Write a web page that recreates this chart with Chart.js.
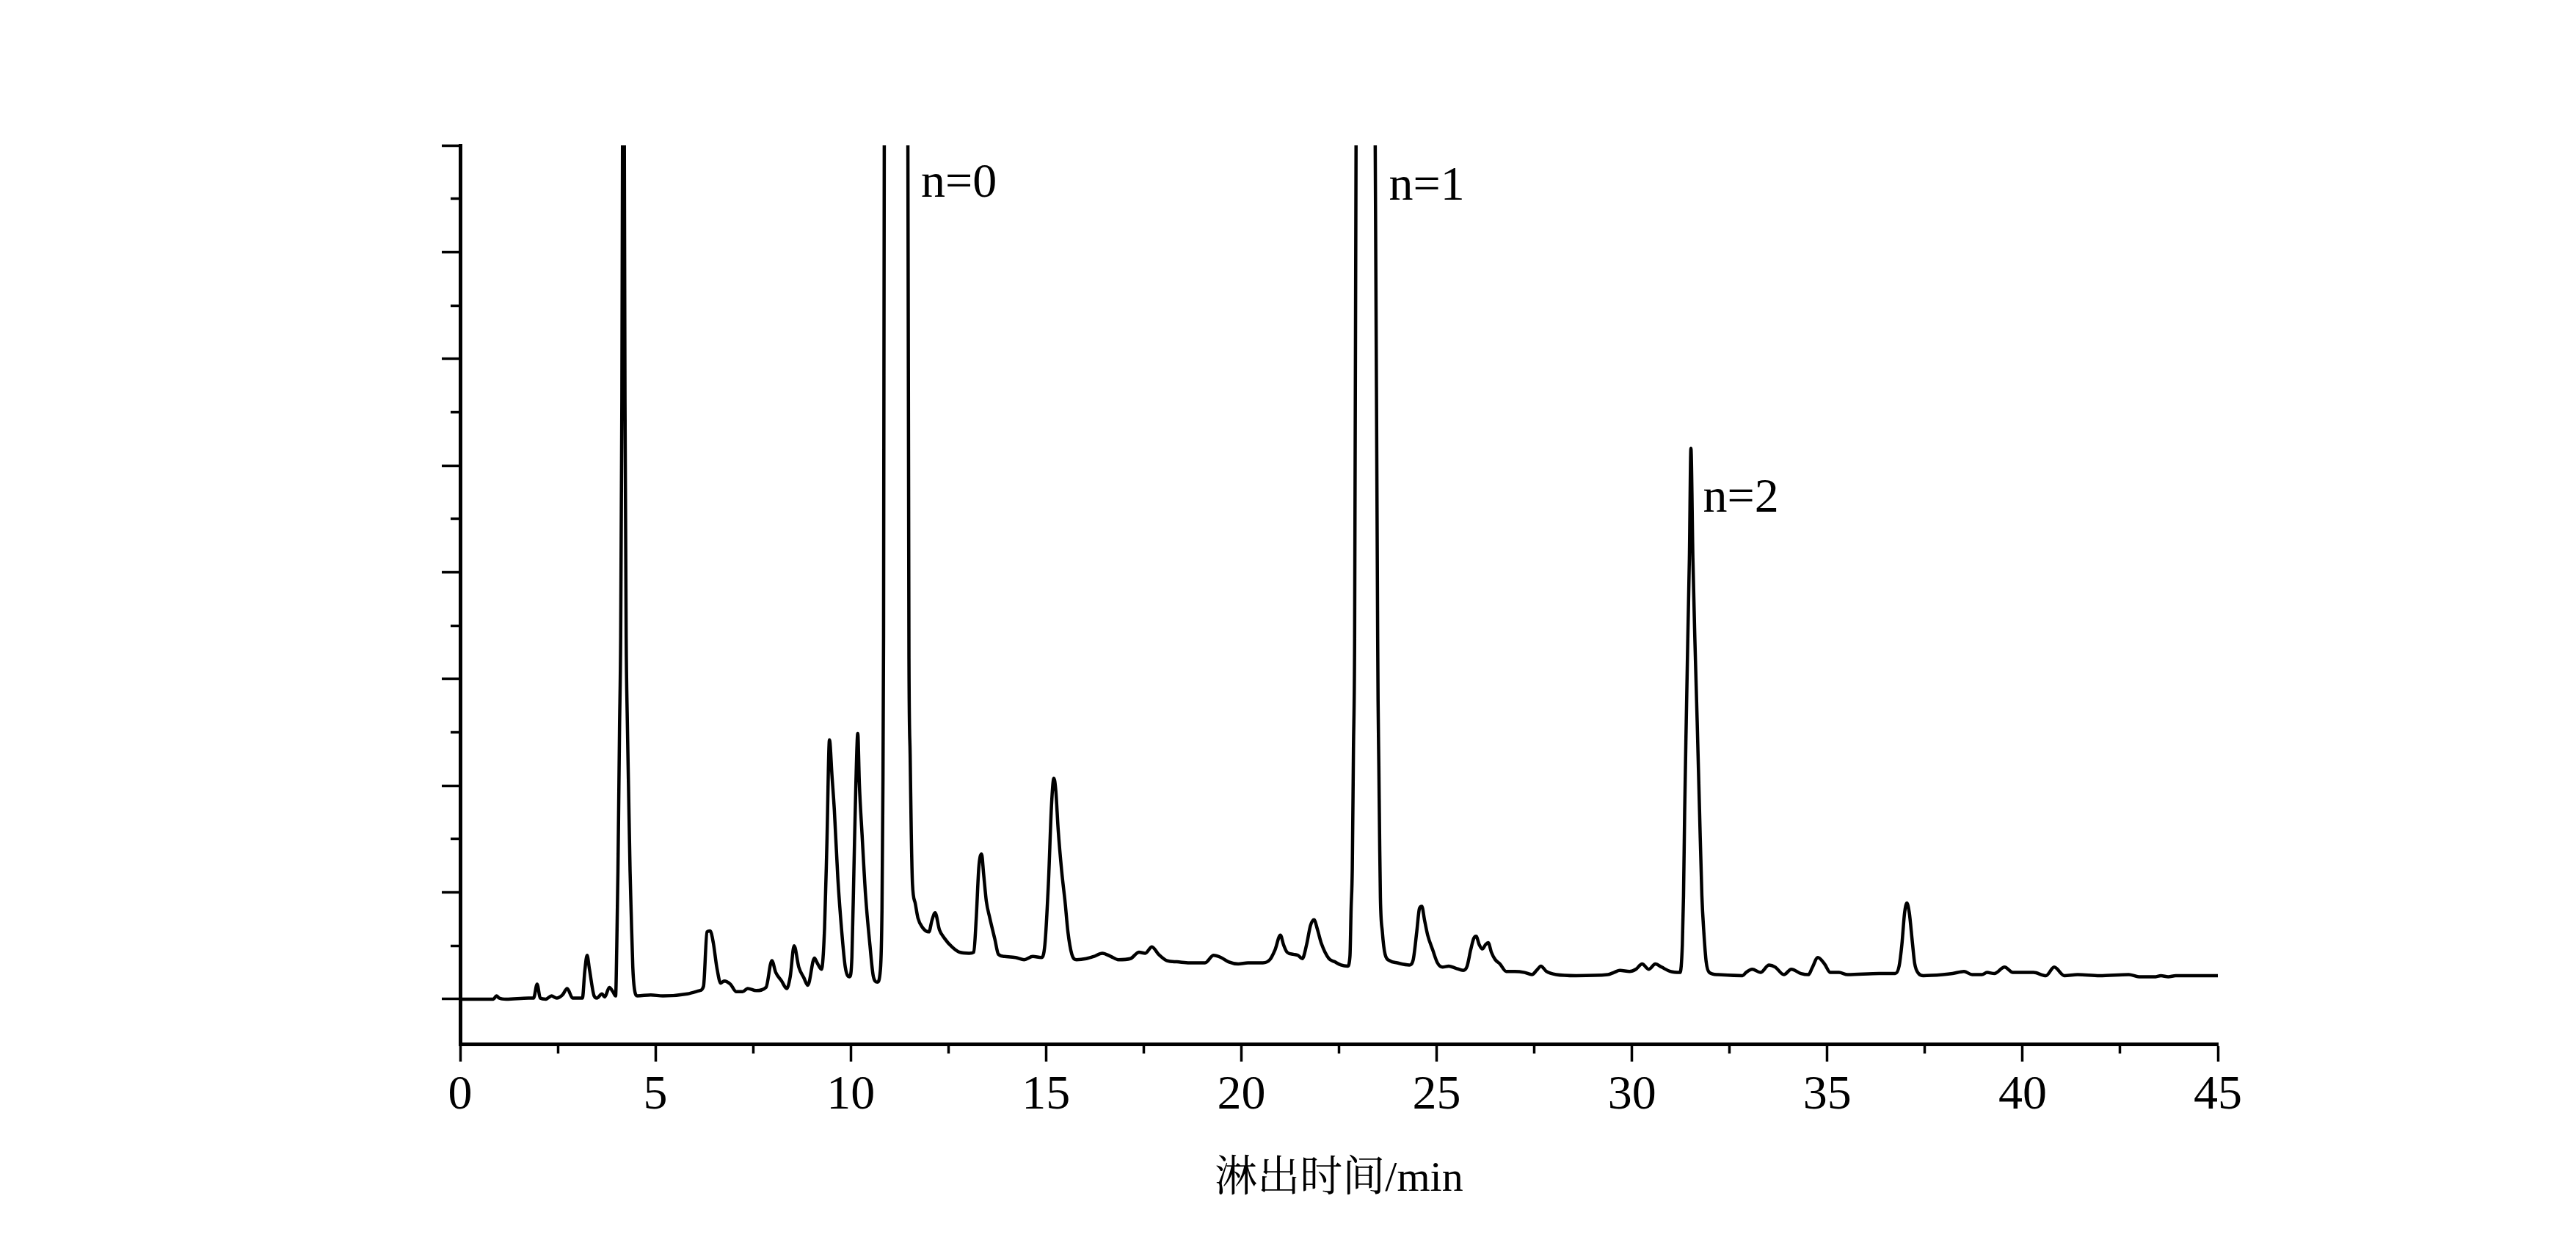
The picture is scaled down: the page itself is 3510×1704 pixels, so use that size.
<!DOCTYPE html>
<html lang="zh">
<head>
  <meta charset="UTF-8">
  <title>淋出时间色谱图</title>
  <script src="https://cdn.jsdelivr.net/npm/chart.js"></script>
  <style>
    html, body { margin: 0; padding: 0; background: #fff; }
    canvas { display: block; }
  </style>
</head>
<body>
  <canvas id="chart" width="3510" height="1704"></canvas>

  <script>
    // elution time (min) and detector signal (arbitrary units, 1 = one major y tick)
    const elutionTime = [
      0.00, 0.85, 0.93, 1.00, 1.18, 1.75, 1.88, 1.97, 2.05, 2.19,
      2.34, 2.47, 2.62, 2.74, 2.88, 3.13, 3.19, 3.25, 3.31, 3.43,
      3.50, 3.63, 3.70, 3.82, 3.91, 3.98, 4.01, 4.04, 4.08, 4.11,
      4.14, 4.16, 4.18, 4.20, 4.22, 4.25, 4.28, 4.31, 4.35, 4.38,
      4.42, 4.46, 4.54, 4.88, 5.19, 5.82, 6.13, 6.23, 6.32, 6.40,
      6.48, 6.57, 6.67, 6.76, 6.92, 7.07, 7.23, 7.36, 7.58, 7.83,
      7.98, 8.08, 8.23, 8.36, 8.45, 8.55, 8.67, 8.80, 8.90, 9.07,
      9.14, 9.25, 9.33, 9.39, 9.455, 9.52, 9.58, 9.67, 9.77, 9.86,
      9.97, 10.03, 10.08, 10.13, 10.18, 10.22, 10.29, 10.38, 10.49, 10.58,
      10.68, 10.76, 10.80, 10.82, 10.84, 10.86, 11.15, 11.46, 11.49, 11.52,
      11.55, 11.58, 11.65, 11.72, 11.84, 12.00, 12.08, 12.16, 12.27, 12.40,
      12.59, 12.78, 13.03, 13.15, 13.21, 13.28, 13.35, 13.40, 13.47, 13.56,
      13.69, 13.78, 13.94, 14.22, 14.44, 14.66, 14.88, 14.97, 15.06, 15.14,
      15.20, 15.25, 15.31, 15.40, 15.49, 15.56, 15.66, 15.78, 16.03, 16.22,
      16.44, 16.66, 16.85, 17.16, 17.38, 17.54, 17.71, 17.88, 18.10, 18.35,
      18.67, 19.07, 19.29, 19.48, 19.67, 19.92, 20.17, 20.55, 20.73, 20.86,
      21.00, 21.08, 21.17, 21.33, 21.45, 21.56, 21.67, 21.77, 21.86, 21.95,
      22.05, 22.24, 22.39, 22.55, 22.72, 22.78, 22.81, 22.84, 22.87, 22.90,
      22.94, 23.17, 23.42, 23.49, 23.50, 23.52, 23.54, 23.56, 23.61, 23.68,
      23.80, 23.99, 24.30, 24.40, 24.49, 24.56, 24.62, 24.69, 24.77, 24.90,
      25.02, 25.15, 25.31, 25.49, 25.68, 25.78, 25.87, 25.95, 26.01, 26.09,
      26.17, 26.25, 26.32, 26.40, 26.50, 26.62, 26.78, 27.00, 27.25, 27.44,
      27.56, 27.67, 27.81, 28.06, 28.57, 29.38, 29.54, 29.69, 29.94, 30.10,
      30.26, 30.43, 30.60, 30.76, 30.98, 31.23, 31.29, 31.32, 31.35, 31.39,
      31.43, 31.47, 31.51, 31.56, 31.61, 31.67, 31.73, 31.79, 31.84, 31.90,
      31.98, 32.20, 32.83, 32.92, 33.08, 33.29, 33.51, 33.67, 33.89, 34.08,
      34.33, 34.52, 34.61, 34.76, 34.93, 35.08, 35.30, 35.52, 36.33, 36.74,
      36.84, 36.91, 36.98, 37.04, 37.10, 37.18, 37.24, 37.34, 37.46, 37.96,
      38.21, 38.50, 38.71, 38.96, 39.09, 39.28, 39.54, 39.75, 40.28, 40.60,
      40.81, 41.07, 41.41, 41.97, 42.72, 42.98, 43.41, 43.54, 43.73, 43.92,
      44.23, 44.79, 45.00
    ];
    const signal = [
      0.00, 0.00, 0.03, 0.01, 0.00, 0.01, 0.01, 0.14, 0.01, 0.00,
      0.03, 0.01, 0.04, 0.10, 0.01, 0.01, 0.26, 0.41, 0.28, 0.03,
      0.01, 0.05, 0.02, 0.11, 0.07, 0.03, 0.50, 1.20, 2.53, 3.40,
      5.60, 8.50, 12.0, 8.50, 5.60, 3.40, 2.60, 2.00, 1.20, 0.79,
      0.30, 0.10, 0.03, 0.04, 0.03, 0.05, 0.08, 0.12, 0.63, 0.64,
      0.53, 0.30, 0.15, 0.17, 0.14, 0.07, 0.07, 0.10, 0.08, 0.11,
      0.36, 0.25, 0.17, 0.10, 0.21, 0.50, 0.30, 0.20, 0.13, 0.385,
      0.34, 0.28, 0.67, 1.47, 2.43, 2.09, 1.77, 1.13, 0.63, 0.30,
      0.21, 0.40, 1.20, 2.00, 2.49, 2.02, 1.54, 0.97, 0.51, 0.21,
      0.16, 0.28, 0.85, 1.80, 3.40, 8.50, 20.0, 8.50, 3.20, 2.30,
      1.54, 1.08, 0.90, 0.76, 0.67, 0.63, 0.74, 0.81, 0.65, 0.57,
      0.49, 0.44, 0.43, 0.44, 0.74, 1.24, 1.36, 1.18, 0.92, 0.76,
      0.56, 0.42, 0.40, 0.39, 0.37, 0.40, 0.39, 0.51, 1.08, 1.82,
      2.07, 1.95, 1.59, 1.20, 0.90, 0.63, 0.42, 0.37, 0.38, 0.40,
      0.43, 0.40, 0.37, 0.38, 0.44, 0.43, 0.49, 0.42, 0.36, 0.35,
      0.34, 0.34, 0.41, 0.39, 0.35, 0.33, 0.34, 0.34, 0.37, 0.46,
      0.60, 0.51, 0.44, 0.42, 0.41, 0.38, 0.51, 0.69, 0.745, 0.65,
      0.52, 0.38, 0.35, 0.32, 0.31, 0.40, 0.85, 1.22, 2.34, 3.38,
      8.50, 20.0, 8.50, 3.38, 2.80, 2.18, 1.50, 0.95, 0.63, 0.42,
      0.36, 0.34, 0.32, 0.37, 0.63, 0.85, 0.87, 0.74, 0.60, 0.46,
      0.34, 0.30, 0.31, 0.29, 0.27, 0.31, 0.46, 0.57, 0.59, 0.51,
      0.47, 0.51, 0.53, 0.44, 0.37, 0.33, 0.26, 0.26, 0.25, 0.23,
      0.27, 0.31, 0.26, 0.23, 0.22, 0.23, 0.25, 0.27, 0.26, 0.28,
      0.33, 0.28, 0.33, 0.30, 0.26, 0.25, 0.51, 0.97, 1.77, 2.60,
      3.38, 4.13, 5.16, 4.13, 3.38, 2.60, 1.77, 0.97, 0.63, 0.35,
      0.25, 0.23, 0.22, 0.25, 0.28, 0.25, 0.32, 0.30, 0.23, 0.28,
      0.24, 0.23, 0.29, 0.39, 0.33, 0.25, 0.25, 0.23, 0.24, 0.24,
      0.31, 0.51, 0.81, 0.90, 0.81, 0.53, 0.33, 0.24, 0.22, 0.23,
      0.24, 0.26, 0.23, 0.23, 0.25, 0.24, 0.30, 0.25, 0.25, 0.22,
      0.30, 0.22, 0.23, 0.22, 0.23, 0.21, 0.21, 0.22, 0.21, 0.22,
      0.22, 0.22, 0.22
    ];

    // tick positions
    const xMajorTicks = [0, 5, 10, 15, 20, 25, 30, 35, 40, 45];
    const xMinorTicks = [2.5, 7.5, 12.5, 17.5, 22.5, 27.5, 32.5, 37.5, 42.5];
    const yMajorTicks = [0, 1, 2, 3, 4, 5, 6, 7, 8];
    const yMinorTicks = [0.5, 1.5, 2.5, 3.5, 4.5, 5.5, 6.5, 7.5];

    // peak labels (anchored in data coordinates)
    const peakNames = ["n=0", "n=1", "n=2"];
    const peakLabelTime = [11.80, 23.78, 31.82];
    const peakLabelValue = [7.52, 7.49, 4.57];

    const X_MIN = 0, X_MAX = 45;
    const Y_MIN = -0.42, Y_MAX = 8;
    const serif = "'Liberation Serif', 'Times New Roman', 'Noto Serif CJK SC', 'Noto Sans CJK SC', serif";

    const setTicks = values => axis => {
      axis.ticks = values.map(v => ({ value: v }));
    };

    // text labels next to the big peaks
    const peakLabelPlugin = {
      id: "peakLabels",
      afterDatasetsDraw(chart) {
        const { ctx, scales: { x, y } } = chart;
        ctx.save();
        ctx.font = "66px " + serif;
        ctx.fillStyle = "#000";
        ctx.textAlign = "left";
        ctx.textBaseline = "alphabetic";
        peakNames.forEach((name, i) => {
          ctx.fillText(name, x.getPixelForValue(peakLabelTime[i]), y.getPixelForValue(peakLabelValue[i]));
        });
        ctx.restore();
      }
    };

    new Chart(document.getElementById("chart"), {
      type: "line",
      data: {
        datasets: [{
          data: elutionTime.map((t, i) => ({ x: t, y: signal[i] })),
          borderColor: "#000",
          borderWidth: 4.5,
          pointRadius: 0,
          fill: false,
          cubicInterpolationMode: "monotone",
          borderJoinStyle: "round",
          xAxisID: "x",
          yAxisID: "y"
        }]
      },
      options: {
        responsive: false,
        devicePixelRatio: 1,
        animation: false,
        events: [],
        layout: { padding: { top: 198, right: 488, bottom: 0, left: 0 } },
        plugins: {
          legend: { display: false },
          tooltip: { enabled: false }
        },
        scales: {
          xMinor: {
            type: "linear",
            position: "bottom",
            weight: 0,
            min: X_MIN, max: X_MAX,
            afterBuildTicks: setTicks(xMinorTicks),
            afterFit: s => { s.height = 0; },
            border: { display: false },
            grid: { drawOnChartArea: false, drawTicks: true, tickLength: 13, tickWidth: 3.5, tickColor: "#000" },
            ticks: { display: false }
          },
          x: {
            type: "linear",
            position: "bottom",
            weight: 1,
            min: X_MIN, max: X_MAX,
            afterBuildTicks: setTicks(xMajorTicks),
            afterFit: s => { s.height = 282; },
            border: { display: true, color: "#000", width: 5 },
            grid: { drawOnChartArea: false, drawTicks: true, tickLength: 24, tickWidth: 3.5, tickColor: "#000" },
            ticks: {
              autoSkip: false,
              maxRotation: 0,
              padding: 7,
              color: "#000",
              font: { family: serif, size: 66 }
            },
            title: {
              display: true,
              text: "淋出时间/min",
              color: "#000",
              font: { family: serif, size: 58 },
              padding: { top: 0, bottom: 62 }
            }
          },
          yMinor: {
            type: "linear",
            position: "left",
            weight: 0,
            min: Y_MIN, max: Y_MAX,
            afterBuildTicks: setTicks(yMinorTicks),
            afterFit: s => { s.width = 0; },
            border: { display: false },
            grid: { drawOnChartArea: false, drawTicks: true, tickLength: 13, tickWidth: 3.5, tickColor: "#000" },
            ticks: { display: false }
          },
          y: {
            type: "linear",
            position: "left",
            weight: 1,
            min: Y_MIN, max: Y_MAX,
            afterBuildTicks: setTicks(yMajorTicks),
            afterFit: s => { s.width = 627; },
            border: { display: true, color: "#000", width: 5 },
            grid: { drawOnChartArea: false, drawTicks: true, tickLength: 25, tickWidth: 3.5, tickColor: "#000" },
            ticks: { display: false }
          }
        }
      },
      plugins: [peakLabelPlugin]
    });
  </script>
</body>
</html>
